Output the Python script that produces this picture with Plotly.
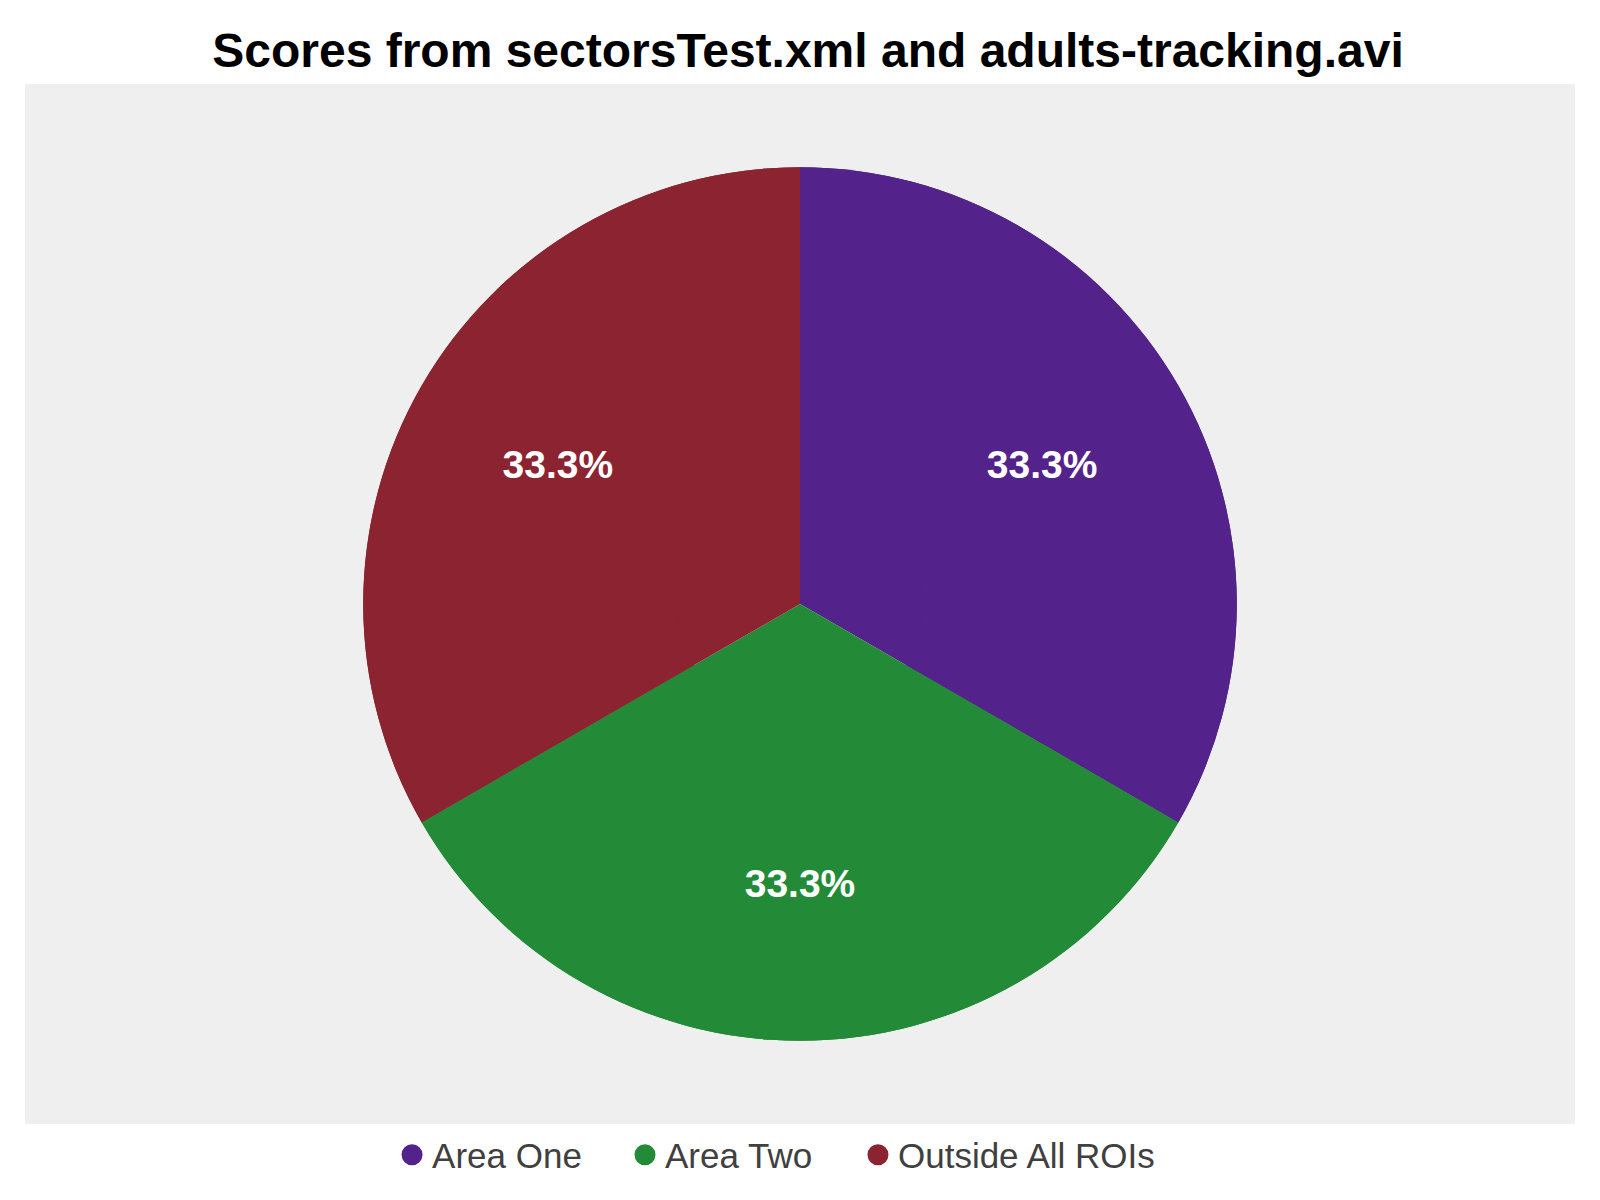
import plotly.graph_objects as go

title_text = "Scores from sectorsTest.xml and adults-tracking.avi"
categories = ["Area One", "Area Two", "Outside All ROIs"]
values = [1, 1, 1]
colors = ["#53228a", "#238b38", "#8c2330"]
legend_x = [0.2368, 0.3871, 0.5374]

fig = go.Figure()
pie_domain = dict(x=[0, 1], y=[0.08, 0.92])

# full disc underneath (no text)
fig.add_trace(go.Pie(
    labels=categories, values=values,
    marker=dict(colors=colors, line=dict(width=0)),
    sort=False, direction="clockwise", rotation=0,
    textinfo="none", showlegend=False, domain=pie_domain,
    hoverinfo="label+percent",
))
# ring on top carries the percentage labels (placed further out like the reference)
fig.add_trace(go.Pie(
    labels=categories, values=values,
    marker=dict(colors=colors, line=dict(width=0)),
    sort=False, direction="clockwise", rotation=0,
    hole=0.28,
    textinfo="percent",
    texttemplate="%{percent:.1%}",
    textposition="inside",
    insidetextorientation="horizontal",
    textfont=dict(family="Liberation Sans, Arial, sans-serif", size=39, color="white", weight="bold"),
    showlegend=False, domain=pie_domain,
    hoverinfo="label+percent",
))

legend_layouts = {}
for i, (name, col) in enumerate(zip(categories, colors)):
    lname = "legend" if i == 0 else f"legend{i + 1}"
    fig.add_trace(go.Scatter(
        x=[None], y=[None], mode="markers", name=name,
        marker=dict(symbol="circle", size=16, color=col, line=dict(width=5, color=col)),
        showlegend=True, legend=lname,
    ))
    legend_layouts[lname] = dict(
        orientation="h",
        x=legend_x[i], xanchor="left",
        y=-0.0298, yanchor="middle",
        font=dict(family="Liberation Sans, Arial, sans-serif", size=35, color="#404040"),
        bgcolor="rgba(0,0,0,0)",
    )

fig.update_layout(
    width=1600, height=1200,
    margin=dict(l=17, r=33, t=76, b=84),
    paper_bgcolor="white",
    plot_bgcolor="#efefef",
    xaxis=dict(visible=False, showgrid=False, zeroline=False),
    yaxis=dict(visible=False, showgrid=False, zeroline=False),
    title=dict(
        text="<b>" + title_text + "</b>",
        x=0.5, xanchor="center",
        y=1 - 42 / 1200, yanchor="middle", yref="container",
        font=dict(family="Liberation Sans, Arial, sans-serif", size=48, color="black"),
    ),
    font=dict(family="Liberation Sans, Arial, sans-serif"),
    **legend_layouts,
)

fig.write_html("out.html")
